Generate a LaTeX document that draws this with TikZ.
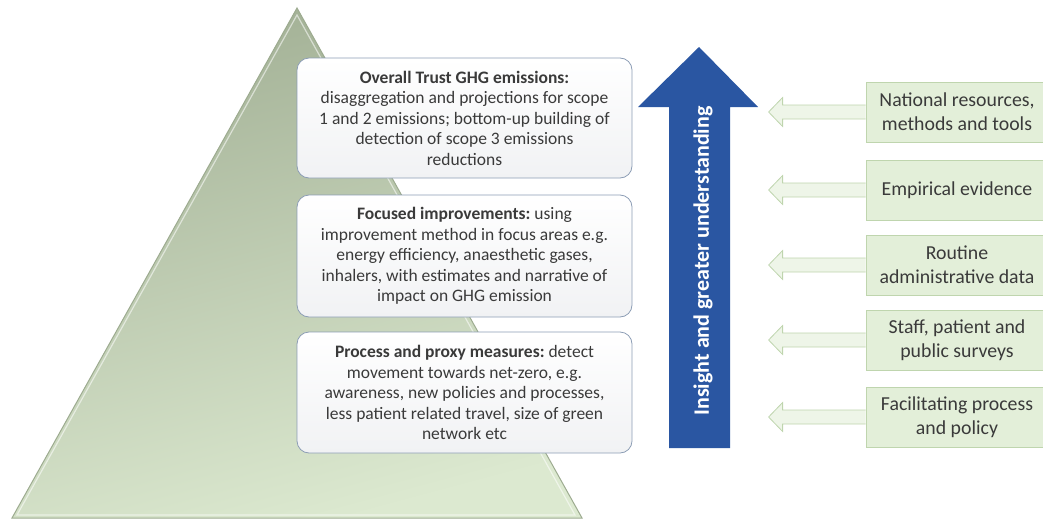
\documentclass[tikz,border=0pt]{standalone}
\usepackage{fontspec}
\setmainfont{Carlito}
\usetikzlibrary{calc}
\definecolor{pyrtop}{HTML}{A3B196}
\definecolor{pyrbot}{HTML}{DCE9D0}
\definecolor{pyredge}{HTML}{9DAB90}
\definecolor{boxedge}{HTML}{8C9DB5}
\definecolor{boxlow}{HTML}{F1F2F4}
\definecolor{arrowblue}{HTML}{2A56A2}
\definecolor{srcfill}{HTML}{E3EFD9}
\definecolor{srcedge}{HTML}{BFD5AE}
\definecolor{srcarrowfill}{HTML}{EEF5E8}
\definecolor{txt}{HTML}{3A3A3A}
\frenchspacing
\begin{document}
\begin{tikzpicture}[x=1pt,y=-1pt,
  levelbox/.style={draw=boxedge, line width=0.8pt, rounded corners=12pt,
    top color=white, bottom color=boxlow, minimum width=335pt, minimum height=120pt,
    align=center, inner sep=0pt, text=txt,
    font=\fontsize{17.5}{20.5}\selectfont},
  srcbox/.style={draw=srcedge, line width=0.8pt, fill=srcfill, minimum width=182pt,
    minimum height=60pt, align=center, inner sep=0pt, text=txt,
    font=\fontsize{19.8}{24}\selectfont},
  srcarrow/.style={draw=srcedge, line width=0.8pt, fill=srcarrowfill, line join=miter},
  upword/.style={text=white, font=\bfseries\fontsize{22}{26}\selectfont, rotate=90}]
\useasboundingbox (0,0) rectangle (1043,522);

% pyramid
\shade[top color=pyrtop, bottom color=pyrbot, shading angle=15]
  (297,8) -- (582,518) -- (12,518) -- cycle;
\draw[pyredge, line width=1pt] (297,8) -- (582,518) -- (12,518) -- cycle;
\draw[white, opacity=0.55, line width=1.2pt] (297,15) -- (575,515) -- (17,515) -- cycle;

% levels of measurement
\node[levelbox] (l1) at (464.5,118) {\textbf{Overall Trust GHG emissions:}\\
  disaggregation and projections for scope\\ 1 and 2 emissions; bottom-up building of\\
  detection of scope 3 emissions\\ reductions};
\node[levelbox, minimum height=122pt] (l2) at (464.5,256) {\textbf{Focused improvements:} using\\
  improvement method in focus areas e.g.\\ energy efficiency, anaesthetic gases,\\
  inhalers, with estimates and narrative of\\ impact on GHG emission};
\node[levelbox, minimum height=121pt] (l3) at (464.5,392.5) {\textbf{Process and proxy measures:} detect\\
  movement towards net-zero, e.g.\\ awareness, new policies and processes,\\
  less patient related travel, size of green\\ network etc};

% insight arrow
\fill[arrowblue] (669,448) -- (669,107) -- (638,107) -- (699,47) -- (758,107)
  -- (730,107) -- (730,448) -- cycle;
\node[upword] (insight) at (703,261) {Insight and greater understanding};

% sources of evidence
\node[srcbox] (s1) at (957,112) {National resources,\\ methods and tools};
\node[srcbox] (s2) at (957,190) {Empirical evidence};
\node[srcbox] (s3) at (957,265) {Routine\\ administrative data};
\node[srcbox] (s4) at (957,340) {Staff, patient and\\ public surveys};
\node[srcbox] (s5) at (957,417) {Facilitating process\\ and policy};

\foreach \s in {s1,s2,s3,s4,s5}{
  \draw[srcarrow] ($(\s.west)+(0,-7)$) -- ++(-83,0) -- ++(0,-7.5) -- ++(-14,14.5)
    -- ++(14,14.5) -- ++(0,-7.5) -- ($(\s.west)+(0,7)$);
}
\end{tikzpicture}
\end{document}
